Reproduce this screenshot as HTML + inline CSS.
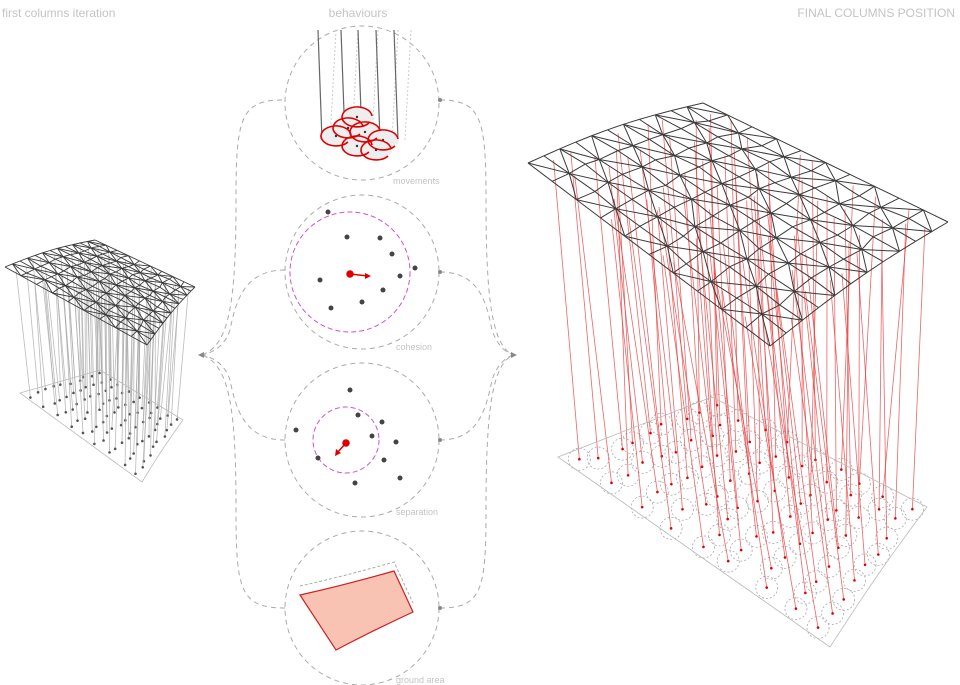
<!DOCTYPE html>
<html><head><meta charset="utf-8"><style>
html,body{margin:0;padding:0;background:#fff;width:960px;height:685px;overflow:hidden}
svg{display:block}
text{font-family:"Liberation Sans",sans-serif;fill:#c4c4c4;font-weight:300}
</style></head><body>
<svg id="s" width="960" height="685" viewBox="0 0 960 685" xmlns="http://www.w3.org/2000/svg">
<text x="2" y="17" font-size="12">first columns iteration</text>
<text x="358" y="17" font-size="12" text-anchor="middle">behaviours</text>
<text x="955" y="17" font-size="12" text-anchor="end">FINAL COLUMNS POSITION</text>
<g fill="none" stroke="#aaa" stroke-dasharray="5,4" stroke-width="1">
<circle cx="362" cy="103" r="77"/><circle cx="362" cy="272" r="77"/>
<circle cx="362" cy="440" r="77"/><circle cx="362" cy="608" r="77"/>
<path d="M282,100 C240,100 236,120 236,200 C236,300 230,345 202,355"/>
<path d="M285,270 C245,270 236,300 230,330 C225,345 215,352 202,355"/>
<path d="M285,440 C245,440 236,410 230,380 C225,365 215,358 202,355"/>
<path d="M285,608 C240,608 236,590 236,510 C236,410 230,365 202,355"/>
<path d="M440,100 C482,100 486,120 486,200 C486,300 492,345 513,355"/>
<path d="M440,272 C478,272 486,300 492,330 C497,345 505,352 513,355"/>
<path d="M440,440 C478,440 486,410 492,380 C497,365 505,358 513,355"/>
<path d="M440,608 C482,608 486,590 486,510 C486,410 492,365 513,355"/>
</g>
<g fill="#888"><circle cx="440" cy="100" r="2"/><circle cx="440" cy="272" r="2"/><circle cx="440" cy="440" r="2"/><circle cx="440" cy="608" r="2"/>
<path d="M198,355 l6,-3 v6z"/><path d="M517,355 l-6,-3 v6z"/></g>
<text x="393" y="184" font-size="9">movements</text>
<text x="396" y="350" font-size="9">cohesion</text>
<text x="396" y="515" font-size="9">separation</text>
<text x="396" y="683" font-size="9">ground area</text>
<g id="mv"></g>
<circle cx="350" cy="272" r="60" fill="none" stroke="#d050d0" stroke-dasharray="5,3"/>
<circle cx="346" cy="440" r="33" fill="none" stroke="#d050d0" stroke-dasharray="5,3"/>
<g fill="#444">
<circle cx="328" cy="212" r="2.5"/><circle cx="347" cy="237" r="2.5"/><circle cx="380" cy="238" r="2.5"/><circle cx="392" cy="254" r="2.5"/><circle cx="415" cy="268" r="2.5"/><circle cx="400" cy="276" r="2.5"/><circle cx="320" cy="280" r="2.5"/><circle cx="383" cy="290" r="2.5"/><circle cx="362" cy="302" r="2.5"/><circle cx="331" cy="308" r="2.5"/>
<circle cx="350" cy="390" r="2.5"/><circle cx="358" cy="415" r="2.5"/><circle cx="382" cy="422" r="2.5"/><circle cx="296" cy="430" r="2.5"/><circle cx="372" cy="436" r="2.5"/><circle cx="396" cy="442" r="2.5"/><circle cx="318" cy="458" r="2.5"/><circle cx="384" cy="460" r="2.5"/><circle cx="400" cy="478" r="2.5"/><circle cx="355" cy="483" r="2.5"/>
</g>
<g stroke="#d00" fill="#d00" stroke-width="1.5"><circle cx="350" cy="274" r="3"/><line x1="350" y1="274" x2="368" y2="276"/><path d="M371,276 l-6,-3 v6z" stroke="none"/>
<circle cx="346" cy="443" r="3"/><line x1="346" y1="443" x2="337" y2="453"/><path d="M335,456 l1,-7 5,4z" stroke="none"/></g>
<path d="M300,595 Q345,585 394,571 L413,612 Q370,632 336,650 Z" fill="#f9c3b3" stroke="#c22" stroke-width="1.2"/>
<path d="M300,586 Q345,576 394,562 L413,603" fill="none" stroke="#aaa" stroke-dasharray="3,2"/>
<g id="L"></g><g id="R"></g>
</svg>
<script>
var NS="http://www.w3.org/2000/svg";
function el(p,t,a){var e=document.createElementNS(NS,t);for(var k in a)e.setAttribute(k,a[k]);p.appendChild(e);return e;}
function bl(Q,u,v,c){var x=(1-u)*(1-v)*Q[0][0]+u*(1-v)*Q[1][0]+u*v*Q[2][0]+(1-u)*v*Q[3][0];
var y=(1-u)*(1-v)*Q[0][1]+u*(1-v)*Q[1][1]+u*v*Q[2][1]+(1-u)*v*Q[3][1];y-=(c||0)*Math.sin(Math.PI*v);return [x,y];}
var seed=7;function rnd(){seed=(seed*16807)%2147483647;return seed/2147483647;}
function build(g,roof,ground,N,M,RN,RM,col,w,gc,rad,curve,jit,mj){
 var P=[];for(var i=0;i<=RN;i++){P[i]=[];for(var j=0;j<=RM;j++){var u=i/RN,v=j/RM;var p=bl(roof,u,v,curve);
 if(i>0&&i<RN&&j>0&&j<RM){p[0]+=(rnd()-.5)*mj;p[1]+=(rnd()-.5)*mj*.7;}P[i][j]=p;}}
 var cg=el(g,"g",{});
 for(var i=0;i<N;i++)for(var j=0;j<M;j++){var u=(i+.5)/N,v=(j+.5)/M;var gp=bl(ground,u+(rnd()-.5)*.04,v+(rnd()-.5)*.04,curve*0.5);
 var rp=bl(roof,Math.min(.97,Math.max(.03,u+(rnd()-.5)*jit)),Math.min(.97,Math.max(.03,v+(rnd()-.5)*jit)),curve);
 if(rad){el(cg,"circle",{cx:gp[0],cy:gp[1],r:rad,fill:"none",stroke:"#aaa","stroke-dasharray":"2,2","stroke-width":.8});}
 el(cg,"line",{x1:gp[0],y1:gp[1],x2:rp[0],y2:rp[1],stroke:col,"stroke-width":.8,"stroke-opacity":.8});
 el(cg,"circle",{cx:gp[0],cy:gp[1],r:1.3,fill:gc});}
 var d="M";for(var k=0;k<=20;k++){var p=bl(ground,k/20,0,curve*.5);d+=p[0]+","+p[1]+" ";}
 for(var k=0;k<=20;k++){var p=bl(ground,1,k/20,curve*.5);d+=p[0]+","+p[1]+" ";}
 for(var k=20;k>=0;k--){var p=bl(ground,k/20,1,curve*.5);d+=p[0]+","+p[1]+" ";}d+="Z";
 el(g,"path",{d:d,fill:"none",stroke:"#bbb","stroke-width":.8});
 var m=el(g,"g",{stroke:"#3a3a3a","stroke-width":w,fill:"none"});
 for(var i=0;i<=RN;i++)for(var j=0;j<=RM;j++){var a=P[i][j];
  if(i<RN){var b=P[i+1][j];el(m,"line",{x1:a[0],y1:a[1],x2:b[0],y2:b[1]});}
  if(j<RM){var b=P[i][j+1];el(m,"line",{x1:a[0],y1:a[1],x2:b[0],y2:b[1]});}
  if(i<RN&&j<RM){var b,c;if((i+j)%2){b=P[i+1][j+1];el(m,"line",{x1:a[0],y1:a[1],x2:b[0],y2:b[1]});}
   else{b=P[i+1][j];c=P[i][j+1];el(m,"line",{x1:b[0],y1:b[1],x2:c[0],y2:c[1]});}}}
}
build(document.getElementById("R"),[[703,103],[948,222],[770,346],[528,163]],[[712,397],[927,507],[830,647],[558,457]],9,9,10,11,"#e64040",1,"#d00",11,6,0.1,6);
build(document.getElementById("L"),[[95,240],[195,287],[147,345],[5,267]],[[100,370],[183,420],[142,482],[20,393]],9,10,9,12,"#aaa",0.9,"#555",0,3,0.06,3);
var mv=document.getElementById("mv");
var xs=[322,330,345,352,362,372,380,392,398,405];
for(var k=0;k<xs.length;k++){el(mv,"line",{x1:xs[k]+(k%2?6:-4),y1:30,x2:xs[k],y2:140,stroke:k%2?"#ccc":"#666","stroke-width":k%2?1:1.2,"stroke-dasharray":k%2?"2,2":"none"});}
var cs=[[336,136],[348,128],[357,146],[365,132],[383,140],[376,150],[357,117]];
cs.forEach(function(c){el(mv,"ellipse",{cx:c[0],cy:c[1],rx:16,ry:9,fill:"#eee",stroke:"none"});});
cs.forEach(function(c){el(mv,"path",{d:"M"+(c[0]+12)+","+(c[1]+6)+" A15,10 0 1,1 "+(c[0]+15)+","+(c[1]-1),fill:"none",stroke:"#d00","stroke-width":1.6});
 el(mv,"circle",{cx:c[0],cy:c[1],r:1.2,fill:"#333"});});
</script>
</body></html>
